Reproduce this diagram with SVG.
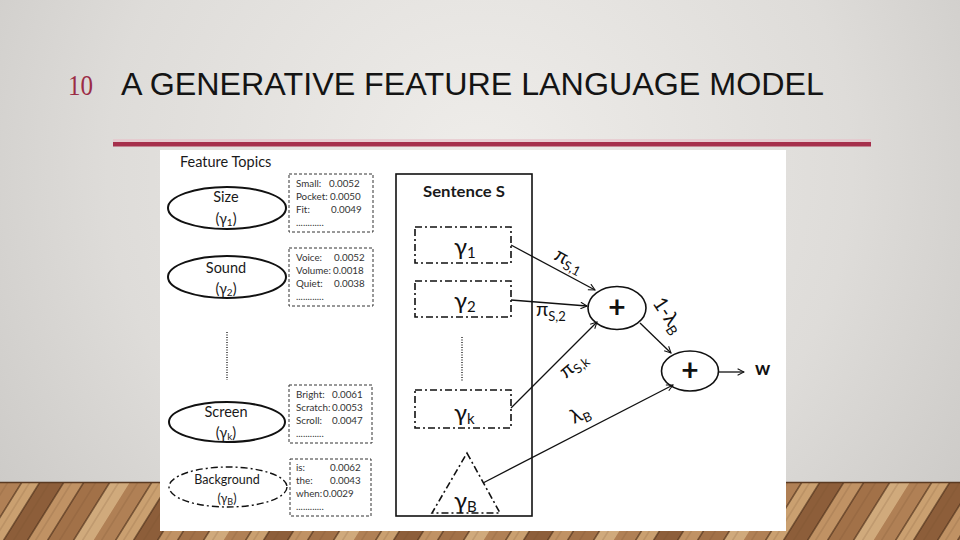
<svg xmlns="http://www.w3.org/2000/svg" width="960" height="540" viewBox="0 0 960 540">
<defs>
<radialGradient id="wall" cx="480" cy="170" r="620" gradientUnits="userSpaceOnUse">
<stop offset="0" stop-color="#efedea"/>
<stop offset="0.6" stop-color="#dedcd9"/>
<stop offset="1" stop-color="#c9c7c4"/>
</radialGradient>
<pattern id="wood" patternUnits="userSpaceOnUse" width="130" height="60" patternTransform="translate(0,482) skewX(-32)">
<rect x="0" y="0" width="130" height="60" fill="#a7774d"/>
<rect x="0" y="0" width="22" height="60" fill="#b08055"/>
<rect x="22" y="0" width="18" height="60" fill="#caa070"/>
<rect x="40" y="0" width="24" height="60" fill="#8d5e3a"/>
<rect x="64" y="0" width="20" height="60" fill="#c09264"/>
<rect x="84" y="0" width="26" height="60" fill="#a27148"/>
<rect x="110" y="0" width="20" height="60" fill="#d0aa7c"/>
<path d="M22,0V60M40,0V60M64,0V60M84,0V60M110,0V60" stroke="#4a2d18" stroke-width="1.2"/>
<path d="M8,0V60M30,0V60M50,0V60M72,0V60M96,0V60M119,0V60" stroke="#6e4526" stroke-width="0.6" opacity="0.5"/>
</pattern>
<marker id="arr" viewBox="0 0 10 10" refX="9" refY="5" markerWidth="8" markerHeight="8" orient="auto" markerUnits="userSpaceOnUse">
<path d="M1,1 L9,5 L1,9" fill="none" stroke="#111" stroke-width="1.3"/>
</marker>
<style>
.tt{font-family:"Lato","Open Sans","Liberation Sans",sans-serif;fill:#1a1a1a}
.big{font-size:14.5px}
.small{font-family:"Lato","Open Sans","Liberation Sans",sans-serif;font-size:9.8px;fill:#333}
.topic{fill:#fff;stroke:#111;stroke-width:2}
.topicb{fill:#fff;stroke:#111;stroke-width:1.4;stroke-dasharray:7 3 2 3}
.wbox{fill:#fff;stroke:#333;stroke-width:1;stroke-dasharray:3 2}
.gbox{fill:#fff;stroke:#111;stroke-width:1.6;stroke-dasharray:7 3 2 3}
.dots{stroke:#222;stroke-width:1.4;stroke-dasharray:1 1.5}
.conn{stroke:#111;stroke-width:1.3;fill:none}
.plus{fill:#fff;stroke:#111;stroke-width:1.6}
.g{font-family:"Lato","Open Sans","Liberation Sans",sans-serif;font-size:24px;fill:#111}
.lbl{font-family:"Lato","Open Sans","Liberation Sans",sans-serif;font-size:20px;fill:#111}
</style>
</defs>

<rect x="0" y="0" width="960" height="540" fill="url(#wall)"/>
<rect x="0" y="482" width="960" height="58" fill="url(#wood)"/>
<line x1="0" y1="482.5" x2="960" y2="482.5" stroke="#5a3a22" stroke-width="1.5"/>

<text x="68" y="95" font-family="Liberation Serif, serif" font-size="30" fill="#9b2c45" textLength="25" lengthAdjust="spacingAndGlyphs">10</text>
<text x="121" y="95" font-family="Liberation Sans, Arial, sans-serif" font-size="32" fill="#141414" textLength="703" lengthAdjust="spacingAndGlyphs">A GENERATIVE FEATURE LANGUAGE MODEL</text>
<rect x="113" y="139" width="758" height="3" fill="#e7c3ca" opacity="0.7"/>
<rect x="113" y="142" width="758" height="4.5" fill="#a6304c"/>

<rect x="160" y="150" width="626" height="381" fill="#ffffff"/>

<text class="tt big" x="180" y="167">Feature Topics</text>

<g id="topic-size">
<ellipse class="topic" cx="227" cy="208" rx="59" ry="21"/>
<text class="tt big" x="226" y="202" text-anchor="middle">Size</text>
<text class="tt big" x="226" y="224" text-anchor="middle">(γ<tspan font-size="10" dy="2">1</tspan><tspan dy="-2">)</tspan></text>
</g>
<g id="words-size">
<rect class="wbox" x="289" y="174" width="84" height="58"/>
<text class="small" x="296" y="187">Small:<tspan x="329">0.0052</tspan></text>
<text class="small" x="296" y="200">Pocket:<tspan x="330">0.0050</tspan></text>
<text class="small" x="296" y="213">Fit:<tspan x="331">0.0049</tspan></text>
<text class="small" x="296" y="226">............</text>
</g>

<g id="topic-sound">
<ellipse class="topic" cx="227" cy="277" rx="59" ry="21"/>
<text class="tt big" x="226" y="273" text-anchor="middle">Sound</text>
<text class="tt big" x="226" y="294" text-anchor="middle">(γ<tspan font-size="10" dy="2">2</tspan><tspan dy="-2">)</tspan></text>
</g>
<g id="words-sound">
<rect class="wbox" x="289" y="248" width="84" height="58"/>
<text class="small" x="296" y="261">Voice:<tspan x="334">0.0052</tspan></text>
<text class="small" x="296" y="274">Volume:<tspan x="333">0.0018</tspan></text>
<text class="small" x="296" y="287">Quiet:<tspan x="334">0.0038</tspan></text>
<text class="small" x="296" y="300">............</text>
</g>

<line class="dots" x1="227" y1="332" x2="227" y2="380"/>

<g id="topic-screen">
<ellipse class="topic" cx="227" cy="422" rx="58" ry="20"/>
<text class="tt big" x="226" y="417" text-anchor="middle">Screen</text>
<text class="tt big" x="226" y="438" text-anchor="middle">(γ<tspan font-size="10" dy="2">k</tspan><tspan dy="-2">)</tspan></text>
</g>
<g id="words-screen">
<rect class="wbox" x="289" y="385" width="83" height="58"/>
<text class="small" x="296" y="398">Bright:<tspan x="332">0.0061</tspan></text>
<text class="small" x="296" y="411">Scratch:<tspan x="332">0.0053</tspan></text>
<text class="small" x="296" y="424">Scroll:<tspan x="332">0.0047</tspan></text>
<text class="small" x="296" y="437">............</text>
</g>

<g id="topic-background">
<ellipse class="topicb" cx="228" cy="487" rx="59" ry="20"/>
<text class="tt" font-size="12.5" x="227" y="484" text-anchor="middle">Background</text>
<text class="tt" font-size="12.5" x="227" y="503" text-anchor="middle">(γ<tspan font-size="9" dy="2">B</tspan><tspan dy="-2">)</tspan></text>
</g>
<g id="words-background">
<rect class="wbox" x="290" y="459" width="81" height="57"/>
<text class="small" x="296" y="471">is:<tspan x="330">0.0062</tspan></text>
<text class="small" x="296" y="484">the:<tspan x="330">0.0043</tspan></text>
<text class="small" x="296" y="497">when:<tspan x="323">0.0029</tspan></text>
<text class="small" x="296" y="510">............</text>
</g>

<g id="sentence">
<rect x="396" y="174" width="136" height="342" fill="none" stroke="#111" stroke-width="1.6"/>
<text class="tt" font-size="14.5" font-weight="bold" x="423" y="197" textLength="82" lengthAdjust="spacingAndGlyphs">Sentence S</text>
<line class="dots" x1="462" y1="337" x2="462" y2="382"/>
</g>

<g id="gamma-1">
<rect class="gbox" x="415" y="227" width="96" height="36"/>
<text class="g" x="454" y="255">γ<tspan font-size="15" dy="3">1</tspan></text>
</g>
<g id="gamma-2">
<rect class="gbox" x="415" y="281" width="96" height="36"/>
<text class="g" x="454" y="309">γ<tspan font-size="15" dy="3">2</tspan></text>
</g>
<g id="gamma-k">
<rect class="gbox" x="415" y="390" width="96" height="38"/>
<text class="g" x="454" y="421">γ<tspan font-size="15" dy="3">k</tspan></text>
</g>
<g id="gamma-B">
<path class="gbox" d="M467,453 L500,513 L432,513 Z"/>
<text class="g" x="454" y="509">γ<tspan font-size="15" dy="3">B</tspan></text>
</g>

<g id="plus-1">
<ellipse class="plus" cx="617" cy="308" rx="29" ry="21.5"/>
<text x="617" y="318" text-anchor="middle" font-family="Lato, Liberation Sans, sans-serif" font-size="30" font-weight="bold" fill="#111">+</text>
</g>
<g id="plus-2">
<ellipse class="plus" cx="690" cy="371" rx="28.5" ry="20"/>
<text x="690" y="381" text-anchor="middle" font-family="Lato, Liberation Sans, sans-serif" font-size="30" font-weight="bold" fill="#111">+</text>
</g>
<g id="output-w">
<text x="755" y="375" font-family="Lato, Liberation Sans, sans-serif" font-size="19" font-weight="bold" fill="#111">w</text>
</g>

<g id="connectors">
<line class="conn" x1="511" y1="245" x2="595" y2="290" marker-end="url(#arr)"/>
<line class="conn" x1="511" y1="300" x2="587" y2="306" marker-end="url(#arr)"/>
<line class="conn" x1="511" y1="408" x2="597" y2="322" marker-end="url(#arr)"/>
<line class="conn" x1="640" y1="323" x2="671" y2="353" marker-end="url(#arr)"/>
<line class="conn" x1="483" y1="483" x2="673" y2="385" marker-end="url(#arr)"/>
<line class="conn" x1="719" y1="372" x2="744" y2="372" marker-end="url(#arr)"/>
<text class="lbl" transform="translate(553,259) rotate(28)">π<tspan font-size="13" dy="4">S,1</tspan></text>
<text class="lbl" x="536" y="316">π<tspan font-size="13" dy="5">S,2</tspan></text>
<text class="lbl" transform="translate(566,379) rotate(-40)">π<tspan font-size="13" dy="4">S,k</tspan></text>
<text class="lbl" transform="translate(574,424) rotate(-25)">λ<tspan font-size="13" dy="4">B</tspan></text>
<text class="lbl" font-size="21" transform="translate(652,303) rotate(56)">1-λ<tspan font-size="14" dy="4">B</tspan></text>
</g>
</svg>
